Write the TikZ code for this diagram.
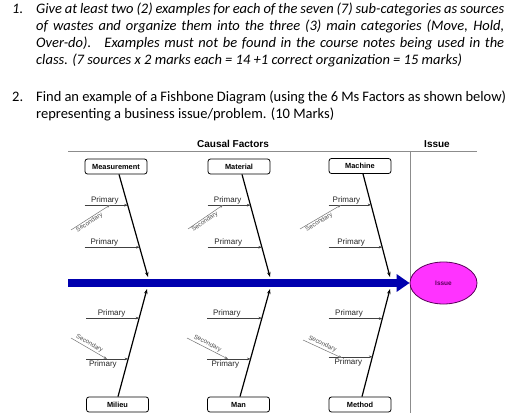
\documentclass[tikz,border=0pt]{standalone}
\usepackage{fontspec}
\setmainfont{Carlito}
\newfontfamily\arial{Liberation Sans}
\usetikzlibrary{arrows.meta,calc,shapes.geometric}
\definecolor{spineblue}{RGB}{0,0,175}
\definecolor{issuefill}{RGB}{255,51,255}
\definecolor{issuedraw}{RGB}{90,0,90}
\definecolor{rulegray}{RGB}{140,140,140}
\begin{document}
\begin{tikzpicture}[x=1pt,y=-1pt,
  question/.style={anchor=north west, inner sep=0pt},
  catbox/.style={draw, rounded corners=2.5pt, line width=0.8pt, minimum width=62pt,
    minimum height=15pt, inner sep=0pt, font=\arial\bfseries\fontsize{7.4}{8}\selectfont},
  heading/.style={font=\arial\bfseries\fontsize{10}{11}\selectfont, inner sep=0pt},
  bone/.style={line width=1.2pt, -{Stealth[length=5pt,width=3.6pt]}},
  prim/.style={line width=0.5pt, draw=black!75, -{Stealth[length=3.5pt,width=2.6pt]}},
  secl/.style={line width=0.5pt, draw=black!55, -{Stealth[length=3.5pt,width=2.6pt]}},
  plab/.style={font=\arial\fontsize{8}{9}\selectfont, text=black!85, inner sep=0.8pt},
  plabb/.style={plab, below, inner sep=1.6pt},
  slab/.style={font=\arial\fontsize{6.3}{7}\selectfont, text=black!70, inner sep=0.6pt, sloped},
  slabu/.style={slab, above, inner sep=1.3pt},
  rule/.style={draw=rulegray, line width=0.7pt}
]
\useasboundingbox (0,0) rectangle (510,419);

% ---- questions ----
\node[question] (q1) at (12,3) {\parbox{492pt}{\fontsize{14.5}{17}\selectfont\itshape
 \leftskip=24pt \noindent\hspace*{-24pt}\makebox[24pt][l]{1.}Give at least two (2) examples for each of the seven (7) sub-categories as sources\linebreak
 of wastes and organize them into the three (3) main categories (Move, Hold,\linebreak
 Over-do). \ Examples must not be found in the course notes being used in the\linebreak
 class. (7 sources x 2 marks each = 14 +1 correct organization = 15 marks)\par}};
\node[question] (q2) at (12,91) {\parbox{494pt}{\fontsize{14.5}{17}\selectfont
 \leftskip=24pt \noindent\hspace*{-24pt}\makebox[24pt][l]{2.}Find an example of a Fishbone Diagram (using the 6 Ms Factors as shown below)\linebreak
 representing a business issue/problem. (10 Marks)\par}};

% ---- frame ----
\node[heading] (causal) at (233,144) {Causal Factors};
\node[heading] (issuehead) at (437,144) {Issue};
\coordinate (tl) at (68,151);
\coordinate (tr) at (477,151);
\coordinate (vt) at (410,151);
\coordinate (vb) at (410,413);
\draw[rule] (tl) -- (tr);
\draw[rule] (vt) -- (vb);

% ---- issue and spine ----
\node[ellipse, draw=issuedraw, fill=issuefill, line width=0.8pt, minimum width=67pt,
  minimum height=42pt, inner sep=0pt, font=\arial\bfseries\fontsize{6.5}{7}\selectfont,
  text=issuedraw] (issue) at (443.5,283) {Issue};
\coordinate (sp0) at (68,283);
\draw[spineblue, line width=8pt, -{Triangle[length=13pt,width=17pt]}] (sp0) -- (issue.west);

% ---- category boxes ----
\node[catbox] (meas) at (116,166.5) {Measurement};
\node[catbox] (mat)  at (239,166.5) {Material};
\node[catbox] (mach) at (360,166)   {Machine};
\node[catbox] (mil)  at (117.5,404.5) {Milieu};
\node[catbox] (man)  at (238.5,404.5) {Man};
\node[catbox] (meth) at (360,404.5) {Method};

% ---- upper bones ----
\coordinate (msS) at ($(meas.south)+(3,0)$);  \coordinate (msT) at (148,277);
\coordinate (maS) at ($(mat.south)+(3,0)$);   \coordinate (maT) at (270,277);
\coordinate (mcS) at ($(mach.south)+(3,0)$);  \coordinate (mcT) at (390,277);
\draw[bone] (msS) -- (msT);
\draw[bone] (maS) -- (maT);
\draw[bone] (mcS) -- (mcT);

\coordinate (ms1) at ($(msS)!0.30!(msT)$); \coordinate (ms2) at ($(msS)!0.71!(msT)$);
\coordinate (ma1) at ($(maS)!0.30!(maT)$); \coordinate (ma2) at ($(maS)!0.71!(maT)$);
\coordinate (mc1) at ($(mcS)!0.30!(mcT)$); \coordinate (mc2) at ($(mcS)!0.71!(mcT)$);

\draw[prim] (meas.west |- ms1) -- node[pos=0.47, above, plab] {Primary} (ms1);
\draw[prim] (meas.west |- ms2) -- node[pos=0.36, above, plab] {Primary} (ms2);
\draw[prim] (mat.west |- ma1)  -- node[pos=0.47, above, plab] {Primary} (ma1);
\draw[prim] (mat.west |- ma2)  -- node[pos=0.38, above, plab] {Primary} (ma2);
\draw[prim] (mach.west |- mc1) -- node[pos=0.42, above, plab] {Primary} (mc1);
\draw[prim] (mach.west |- mc2) -- node[pos=0.42, above, plab] {Primary} (mc2);

\coordinate (msA) at (71,230);  \coordinate (msB) at (110,205);
\coordinate (maA) at (188,229); \coordinate (maB) at (223,205);
\coordinate (mcA) at (300,229); \coordinate (mcB) at (341,205);
\draw[secl] (msA) -- node[pos=0.42, below, slab] {Secondary} (msB);
\draw[secl] (maA) -- node[pos=0.42, below, slab] {Secondary} (maB);
\draw[secl] (mcA) -- node[pos=0.42, below, slab] {Secondary} (mcB);

% ---- lower bones ----
\coordinate (miS) at ($(mil.north)+(0.5,0)$); \coordinate (miT) at (147,289);
\coordinate (mnS) at ($(man.north)+(1.5,0)$); \coordinate (mnT) at (270,289);
\coordinate (mtS) at ($(meth.north)+(2,0)$);  \coordinate (mtT) at (390,289);
\draw[bone] (miS) -- (miT);
\draw[bone] (mnS) -- (mnT);
\draw[bone] (mtS) -- (mtT);

\coordinate (mi1) at ($(miS)!0.73!(miT)$); \coordinate (mi2) at ($(miS)!0.35!(miT)$);
\coordinate (mn1) at ($(mnS)!0.73!(mnT)$); \coordinate (mn2) at ($(mnS)!0.35!(mnT)$);
\coordinate (mt1) at ($(mtS)!0.725!(mtT)$); \coordinate (mt2) at ($(mtS)!0.37!(mtT)$);

\draw[prim] (mil.west |- mi1)  -- node[pos=0.48, above, plab] {Primary} (mi1);
\draw[prim] (mil.west |- mi2)  -- node[pos=0.40, plabb] {Primary} (mi2);
\draw[prim] (man.west |- mn1)  -- node[pos=0.36, above, plab] {Primary} (mn1);
\draw[prim] (man.west |- mn2)  -- node[pos=0.42, plabb] {Primary} (mn2);
\draw[prim] (meth.west |- mt1) -- node[pos=0.38, above, plab] {Primary} (mt1);
\draw[prim] (meth.west |- mt2) -- node[pos=0.45, plabb] {Primary} (mt2);

\coordinate (miA) at (71,338);  \coordinate (miB) at (107,359);
\coordinate (mnA) at (187,338); \coordinate (mnB) at (228,359);
\coordinate (mtA) at (303,340); \coordinate (mtB) at (342,358);
\draw[secl] (miA) -- node[pos=0.45, slabu] {Secondary} (miB);
\draw[secl] (mnA) -- node[pos=0.45, slabu] {Secondary} (mnB);
\draw[secl] (mtA) -- node[pos=0.45, slabu] {Secondary} (mtB);
\end{tikzpicture}
\end{document}
